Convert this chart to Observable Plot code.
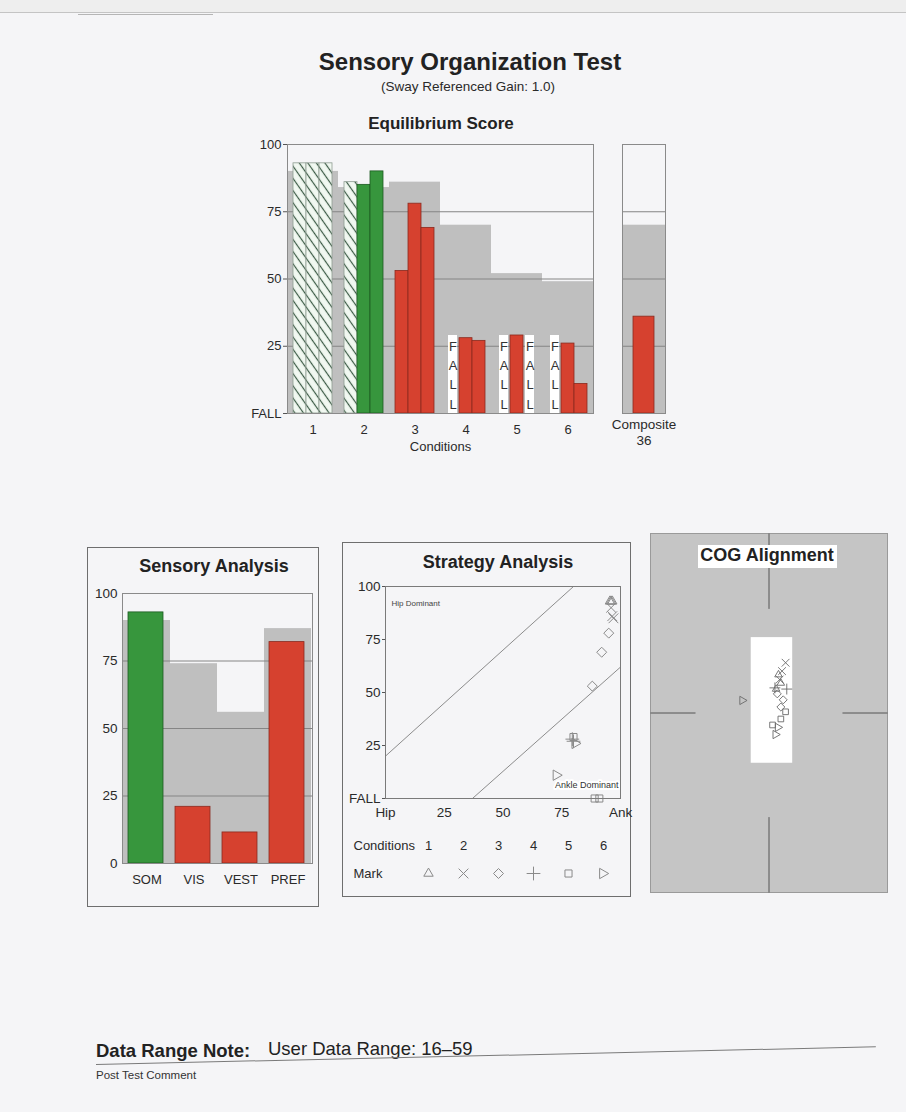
<!DOCTYPE html>
<html><head><meta charset="utf-8">
<script src="https://cdn.jsdelivr.net/npm/d3@7"></script>
<script src="https://cdn.jsdelivr.net/npm/@observablehq/plot@0.6"></script>
<style>
html,body{margin:0;padding:0;background:#f5f5f7;}
#page{position:relative;width:906px;height:1112px;overflow:hidden;font-family:"Liberation Sans",Arial,sans-serif;color:#2a2a2a;background:#f5f5f7;}
.abs{position:absolute;}
.t{position:absolute;white-space:nowrap;line-height:1;}
.c{text-align:center;}
.box{position:absolute;border:1px solid #6e6e6e;box-sizing:border-box;}
</style></head><body>
<svg width="0" height="0" style="position:absolute;left:0;top:0">
  <defs>
    <pattern id="hatch" patternUnits="userSpaceOnUse" width="7" height="7" patternTransform="rotate(-35)">
      <rect width="7" height="7" fill="#f1f8f1"/>
      <line x1="3.5" y1="0" x2="3.5" y2="7" stroke="#3a5a44" stroke-width="1.2"/>
    </pattern>
  </defs>
</svg>
<div id="page">
  <div class="abs" style="left:0;top:0;width:906px;height:12px;background:#eeeeee"></div>
  <div class="abs" style="left:0;top:12px;width:906px;height:1px;background:#c4c4c4"></div>
  <div class="abs" style="left:78px;top:14px;width:135px;height:1px;background:#b5b5b5"></div>

  <div class="t c" style="left:270px;top:50px;width:400px;font-size:24px;font-weight:bold;color:#222">Sensory Organization Test</div>
  <div class="t c" style="left:268px;top:80px;width:400px;font-size:13.5px">(Sway Referenced Gain: 1.0)</div>
  <div class="t c" style="left:241px;top:115px;width:400px;font-size:17px;font-weight:bold;color:#222">Equilibrium Score</div>

  <div id="main" class="abs" style="left:245px;top:131px"></div>
  <div id="composite" class="abs" style="left:602px;top:131px"></div>

  <div class="box" style="left:87px;top:547px;width:232px;height:360px"></div>
  <div class="t c" style="left:114px;top:557px;width:200px;font-size:18px;font-weight:bold;color:#222">Sensory Analysis</div>
  <div id="sensory" class="abs" style="left:84px;top:585px"></div>

  <div class="box" style="left:342px;top:542px;width:289px;height:355px"></div>
  <div class="t c" style="left:398px;top:553px;width:200px;font-size:18px;font-weight:bold;color:#222">Strategy Analysis</div>
  <div id="strategy" class="abs" style="left:342px;top:576px"></div>
  <div id="legend" class="abs" style="left:342px;top:830px"></div>

  <div id="cog" class="abs" style="left:650px;top:533px"></div>
  <div class="abs" style="left:698px;top:545px;width:139px;height:23px;background:#ffffff"></div>
  <div class="t c" style="left:667px;top:546px;width:200px;font-size:18px;font-weight:bold;color:#222">COG Alignment</div>

  <div class="t" style="left:96px;top:1042px;font-size:18.5px;font-weight:bold;color:#222">Data Range Note:</div>
  <div class="t" style="left:268px;top:1040px;font-size:18.5px;color:#222">User Data Range: 16–59</div>
  <div class="abs" style="left:96px;top:1064px;width:780px;height:0;border-top:1px solid #7a7a7a;transform-origin:0 0;transform:rotate(-1.3deg)"></div>
  <div class="t" style="left:96px;top:1070px;font-size:11.5px;color:#333">Post Test Comment</div>
</div>
<script>
// ---------- Equilibrium score data ----------
const conditions = [1, 2, 3, 4, 5, 6];
const conditionNorms = [90, 84, 86, 70, 52, 49];
const trial1Scores = [93, 86, 53, null, null, null];   // null = FALL
const trial2Scores = [93, 85, 78, 28, 29, 26];
const trial3Scores = [93, 90, 69, 27, null, 11];
const hatchedTrials = ["1-1", "1-2", "1-3", "2-1"];
const yTicks = [0, 25, 50, 75, 100];
const gridValues = [25, 50, 75];
const fallBoxTop = 29;

// ---------- Composite ----------
const compositeLabel = "Composite";
const compositeScore = 36;
const compositeNorm = 70;

// ---------- Sensory analysis ----------
const sensoryCategories = ["SOM", "VIS", "VEST", "PREF"];
const sensoryScores = [93, 21, 11.5, 82];
const sensoryNorms = [90, 74, 56, 87];

// ---------- Strategy analysis (x = strategy score, y = equilibrium score, 0 = FALL) ----------
const strategyX1 = [95.5, 96.5, 88, null, 89, null];
const strategyX2 = [96, 97, 95, 79.5, 80, 81];
const strategyX3 = [96.5, 96, 92, 80, 91, 73];
const strategyXTicks = [0, 25, 50, 75, 100];
const upperBoundary = [{x: 0, y: 20}, {x: 80, y: 100}];
const lowerBoundary = [{x: 37, y: 0}, {x: 100, y: 62}];

// ---------- COG alignment ----------
const cogX1 = [0.8, 1.4, 0.7, null, 1.4, -2.2];
const cogY1 = [3.2, 4.2, 1.6, null, 0.1, 1.05];
const cogX2 = [1.0, 1.1, 1.2, 0.5, 1.0, 0.8];
const cogY2 = [2.5, 3.5, 1.1, 2.1, -0.5, -1.2];
const cogX3 = [0.6, 0.9, 1.0, 1.5, 0.3, 0.6];
const cogY3 = [2.0, 2.8, 0.5, 2.0, -1.0, -1.8];
const cogNormalRange = {x1: -1.5, x2: 2.0, y1: -4.2, y2: 6.3};
const cogCrosshair = [
  {x1: 0, y1: 8.7, x2: 0, y2: 15},
  {x1: 0, y1: -15, x2: 0, y2: -8.7},
  {x1: -10, y1: 0, x2: -6.2, y2: 0},
  {x1: 6.2, y1: 0, x2: 10, y2: 0}
];

// ---------- styling ----------
const FONT = '"Liberation Sans", Arial, sans-serif';
const GRAY = "#bfbfbf";
const GREEN = "#37963d";
const DKGREEN = "#1d5a22";
const RED = "#d6412f";
const DKRED = "#8a2a1e";
const GRID = "#858585";
const FRAME = "#8a8a8a";
const baseStyle = {fontFamily: FONT, fontSize: "13px", color: "#2a2a2a", background: "transparent", overflow: "visible"};

const triRight = {
  draw(context, size) {
    const s = Math.sqrt(size / Math.PI) * 1.15;
    context.moveTo(-s * 0.75, -s);
    context.lineTo(s, 0);
    context.lineTo(-s * 0.75, s);
    context.closePath();
  }
};
const conditionSymbols = ["triangle2", "times", "diamond2", "plus", "square2", triRight];

// ---------- build rows ----------
const trialArrays = [trial1Scores, trial2Scores, trial3Scores];
const trials = [];
conditions.forEach((c, i) => {
  trialArrays.forEach((arr, t) => {
    trials.push({cond: c, trial: t + 1, score: arr[i], norm: conditionNorms[i],
                 hatched: hatchedTrials.includes(`${c}-${t + 1}`)});
  });
});
const normRows = conditions.map((c, i) => ({cond: c, norm: conditionNorms[i]}));
const scored = trials.filter(d => d.score != null);
const falls = trials.filter(d => d.score == null);

const main = Plot.plot({
  width: 358, height: 327, marginLeft: 40, marginRight: 8, marginTop: 13, marginBottom: 45,
  style: baseStyle,
  fx: {domain: conditions, padding: 0, axis: null},
  x: {domain: [1, 2, 3], paddingInner: 0, paddingOuter: 0.45, axis: null},
  y: {domain: [0, 100], axis: null},
  marks: [
    Plot.barY(normRows, {fx: "cond", y: "norm", fill: GRAY}),
    Plot.ruleY(gridValues, {stroke: GRID, strokeWidth: 1}),
    Plot.barY(scored.filter(d => d.hatched), {fx: "cond", x: "trial", y: "score", fill: "url(#hatch)", stroke: "#8e9c92", strokeWidth: 0.8}),
    Plot.barY(scored.filter(d => !d.hatched && d.score >= d.norm), {fx: "cond", x: "trial", y: "score", fill: GREEN, stroke: DKGREEN, strokeWidth: 0.8}),
    Plot.barY(scored.filter(d => !d.hatched && d.score < d.norm), {fx: "cond", x: "trial", y: "score", fill: RED, stroke: DKRED, strokeWidth: 0.8}),
    Plot.barY(falls, {fx: "cond", x: "trial", y1: 0, y2: fallBoxTop, fill: "white", insetLeft: 2, insetRight: 2}),
    Plot.text(falls, {fx: "cond", x: "trial", y: 0, text: () => "F\nA\nL\nL", lineAnchor: "bottom", lineHeight: 1.48, dy: -5, fontSize: 13, fill: "#333"}),
    Plot.frame({facet: "super", stroke: FRAME}),
    Plot.axisY({ticks: yTicks, tickFormat: d => d === 0 ? "FALL" : d, tickSize: 4, tickPadding: 2, stroke: "#555", label: null}),
    Plot.axisFx({anchor: "bottom", tickSize: 0, tickPadding: 11, label: "Conditions", labelAnchor: "center", labelOffset: 37})
  ]
});
document.getElementById("main").appendChild(main);

const composite = Plot.plot({
  width: 83, height: 327, marginLeft: 20, marginRight: 20, marginTop: 13, marginBottom: 45,
  style: baseStyle,
  x: {domain: [compositeLabel], padding: 0.33, axis: null},
  y: {domain: [0, 100], axis: null},
  marks: [
    Plot.barY([compositeNorm], {y: d => d, fill: GRAY}),
    Plot.ruleY(gridValues, {stroke: GRID, strokeWidth: 1}),
    Plot.barY([{label: compositeLabel, score: compositeScore}], {x: "label", y: "score", fill: RED, stroke: DKRED, strokeWidth: 0.8}),
    Plot.frame({stroke: FRAME}),
    Plot.axisX({tickSize: 0, tickPadding: 4, tickFormat: d => `${d}\n${compositeScore}`, lineHeight: 1.2, fontSize: 13.5, label: null})
  ]
});
document.getElementById("composite").appendChild(composite);

const sensoryRows = sensoryCategories.map((c, i) => ({cat: c, score: sensoryScores[i], norm: sensoryNorms[i]}));
const sensory = Plot.plot({
  width: 234, height: 303, marginLeft: 38, marginRight: 6, marginTop: 8, marginBottom: 25,
  style: baseStyle,
  x: {domain: sensoryCategories, padding: 0, axis: null},
  y: {domain: [0, 100], axis: null},
  marks: [
    Plot.barY(sensoryRows, {x: "cat", y: "norm", fill: GRAY}),
    Plot.ruleY(gridValues, {stroke: GRID, strokeWidth: 1}),
    Plot.barY(sensoryRows.filter(d => d.score >= d.norm), {x: "cat", y: "score", fill: GREEN, stroke: DKGREEN, strokeWidth: 0.8, insetLeft: 5, insetRight: 7}),
    Plot.barY(sensoryRows.filter(d => d.score < d.norm), {x: "cat", y: "score", fill: RED, stroke: DKRED, strokeWidth: 0.8, insetLeft: 5, insetRight: 7}),
    Plot.frame({stroke: FRAME}),
    Plot.axisY({ticks: yTicks, tickSize: 0, tickPadding: 5, label: null, fontSize: 13.5}),
    Plot.axisX({tickSize: 0, tickPadding: 11, label: null})
  ]
});
document.getElementById("sensory").appendChild(sensory);

const strategyArrays = [strategyX1, strategyX2, strategyX3];
const strategyRows = [];
conditions.forEach((c, i) => {
  strategyArrays.forEach((arr, t) => {
    if (arr[i] != null) strategyRows.push({cond: c, x: arr[i], y: trialArrays[t][i] == null ? 0 : trialArrays[t][i]});
  });
});
const strategy = Plot.plot({
  width: 292, height: 247, marginLeft: 43, marginRight: 14, marginTop: 10, marginBottom: 25,
  style: baseStyle,
  x: {domain: [0, 100], axis: null},
  y: {domain: [0, 100], axis: null},
  marks: [
    Plot.line(upperBoundary, {x: "x", y: "y", stroke: "#8c8c8c", strokeWidth: 1}),
    Plot.line(lowerBoundary, {x: "x", y: "y", stroke: "#8c8c8c", strokeWidth: 1}),
    Plot.text(["Hip Dominant"], {frameAnchor: "top-left", text: d => d, textAnchor: "start", dx: 6, dy: 14, fontSize: 8, fill: "#444"}),
    ...conditions.map((c, i) => Plot.dot(strategyRows.filter(d => d.cond === c), {x: "x", y: "y", symbol: conditionSymbols[i], r: 4.5, stroke: "#8a8a8a", strokeWidth: 1, fill: "none"})),
    Plot.text(["Ankle Dominant"], {frameAnchor: "bottom-right", text: d => d, textAnchor: "end", dx: -2, dy: -11, fontSize: 9, fill: "#333", stroke: "white", strokeWidth: 4}),
    Plot.frame({stroke: "#7a7a7a"}),
    Plot.axisY({ticks: yTicks, tickFormat: d => d === 0 ? "FALL" : d, tickSize: 3, tickPadding: 2, stroke: "#555", label: null, fontSize: 13.5}),
    Plot.axisX({ticks: strategyXTicks, tickFormat: d => d === 0 ? "Hip" : d === 100 ? "Ank" : d, tickSize: 0, tickPadding: 9, label: null, fontSize: 13.5})
  ]
});
document.getElementById("strategy").appendChild(strategy);

const legendRows = ["Conditions", "Mark"];
const legend = Plot.plot({
  width: 288, height: 58, marginLeft: 11, marginRight: 0, marginTop: 0, marginBottom: 0,
  style: baseStyle,
  x: {type: "point", domain: conditions, range: [84, 262], padding: 0, axis: null},
  y: {type: "point", domain: legendRows, range: [15, 43], padding: 0, axis: null},
  marks: [
    Plot.text(legendRows, {y: d => d, text: d => d, frameAnchor: "left", textAnchor: "start", fontSize: 13}),
    Plot.text(conditions, {x: d => d, y: () => "Conditions", text: d => d, fontSize: 13}),
    ...conditions.map((c, i) => Plot.dot([c], {x: d => d, y: () => "Mark", symbol: conditionSymbols[i], r: 4.5, stroke: "#8a8a8a", strokeWidth: 1, fill: "none"}))
  ]
});
document.getElementById("legend").appendChild(legend);

const cogArraysX = [cogX1, cogX2, cogX3];
const cogArraysY = [cogY1, cogY2, cogY3];
const cogRows = [];
conditions.forEach((c, i) => {
  cogArraysX.forEach((arr, t) => {
    if (arr[i] != null) cogRows.push({cond: c, x: arr[i], y: cogArraysY[t][i]});
  });
});
const cog = Plot.plot({
  width: 237, height: 359, marginLeft: 0, marginRight: 0, marginTop: 0, marginBottom: 0,
  style: baseStyle,
  x: {domain: [-10, 10], axis: null},
  y: {domain: [-15, 15], axis: null},
  marks: [
    Plot.frame({fill: "#c5c5c5", stroke: "#9a9a9a"}),
    Plot.rect([cogNormalRange], {x1: "x1", x2: "x2", y1: "y1", y2: "y2", fill: "white"}),
    Plot.link(cogCrosshair, {x1: "x1", y1: "y1", x2: "x2", y2: "y2", stroke: "#555", strokeWidth: 1}),
    ...conditions.map((c, i) => Plot.dot(cogRows.filter(d => d.cond === c), {x: "x", y: "y", symbol: conditionSymbols[i], r: 3.6, stroke: "#6a6a6a", strokeWidth: 0.9, fill: "none"}))
  ]
});
document.getElementById("cog").appendChild(cog);
</script>
</body></html>
